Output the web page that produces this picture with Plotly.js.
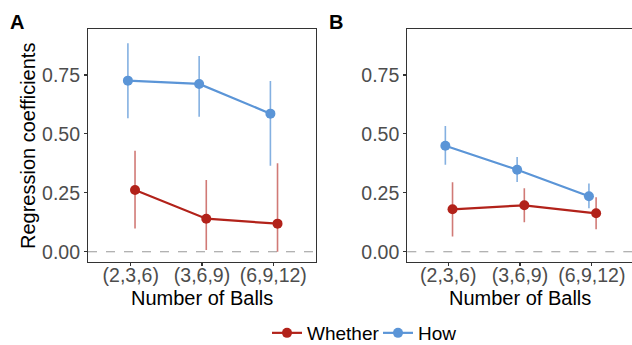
<!DOCTYPE html>
<html>
<head>
<meta charset="utf-8">
<script src="https://cdn.plot.ly/plotly-3.0.1.min.js"></script>
<style>html,body{margin:0;padding:0;background:#fff;}#chart{width:632px;height:345px;}</style>
</head>
<body>
<div id="chart"></div>
<script>
// ---- data ----
const categories = ["(2,3,6)", "(3,6,9)", "(6,9,12)"];
const seriesNames = ["Whether", "How"];

// Panel A
const whetherA = [0.262, 0.140, 0.119];
const whetherA_hi = [0.429, 0.304, 0.375];
const whetherA_lo = [0.098, 0.007, 0.000];
const howA = [0.726, 0.712, 0.586];
const howA_hi = [0.885, 0.831, 0.725];
const howA_lo = [0.566, 0.573, 0.365];

// Panel B
const whetherB = [0.180, 0.197, 0.163];
const whetherB_hi = [0.295, 0.269, 0.231];
const whetherB_lo = [0.064, 0.125, 0.095];
const howB = [0.450, 0.348, 0.235];
const howB_hi = [0.534, 0.402, 0.289];
const howB_lo = [0.369, 0.296, 0.184];

const yTickVals = [0, 0.25, 0.5, 0.75];
const yTickText = ["0.00", "0.25", "0.50", "0.75"];
const xTitle = "Number of Balls";
const yTitle = "Regression coefficients";

// ---- styles ----
const RED = "#B2221A", BLUE = "#5B95D7";
const RED_EB = "rgba(178,34,26,0.6)", BLUE_EB = "rgba(91,149,215,0.75)";
const dodge = {Whether: 0.06, How: -0.04};
const legendOf = {Whether: "legend", How: "legend2"};

function trace(name, vals, hi, lo, color, ebColor, xa, ya, showlegend) {
  return {
    type: "scatter", mode: "lines+markers", name: name,
    x: categories.map((c, i) => i + dodge[name]),
    y: vals,
    xaxis: xa, yaxis: ya, showlegend: showlegend, legendgroup: name, legend: legendOf[name],
    line: {color: color, width: 2.2},
    marker: {color: color, size: 10},
    error_y: {type: "data", symmetric: false,
      array: hi.map((h, i) => h - vals[i]),
      arrayminus: lo.map((l, i) => vals[i] - l),
      color: ebColor, thickness: 1.6, width: 0},
    hoverinfo: "skip"
  };
}

const data = [
  trace("Whether", whetherA, whetherA_hi, whetherA_lo, RED, RED_EB, "x", "y", true),
  trace("How", howA, howA_hi, howA_lo, BLUE, BLUE_EB, "x", "y", true),
  trace("Whether", whetherB, whetherB_hi, whetherB_lo, RED, RED_EB, "x2", "y2", false),
  trace("How", howB, howB_hi, howB_lo, BLUE, BLUE_EB, "x2", "y2", false)
];

const FAM = "Liberation Sans, Arial, sans-serif";
const tickFont = {family: FAM, size: 19.5, color: "#4D4D4D"};
const titleFont = {family: FAM, size: 20, color: "#000"};
const yDom = [0.2397, 0.9151];

function xAxis(domain, range, mirror) {
  return {
    domain: domain, range: range, tickmode: "array", tickvals: [0, 1, 2], ticktext: categories,
    showgrid: false, zeroline: false, showline: true, mirror: mirror, linecolor: "#333", linewidth: 1.1,
    ticks: "outside", ticklen: 3, tickcolor: "#333", tickwidth: 1.1, tickfont: tickFont,
    ticklabelstandoff: -8, automargin: false, fixedrange: true
  };
}
function yAxis(anchor, mirror, withTitle) {
  const a = {
    domain: yDom, range: [-0.045, 0.944], anchor: anchor, tickmode: "array",
    tickvals: yTickVals, ticktext: yTickText,
    showgrid: false, zeroline: false, showline: true, mirror: mirror, linecolor: "#333", linewidth: 1.1,
    ticks: "outside", ticklen: 3, tickcolor: "#333", tickwidth: 1.1, tickfont: tickFont,
    automargin: false, fixedrange: true
  };
  if (withTitle) a.title = {text: yTitle, font: titleFont, standoff: 1};
  return a;
}

const legendBase = {orientation: "h", yanchor: "middle", y: 12/345, xanchor: "left",
  font: {family: FAM, size: 19, color: "#000"}, bgcolor: "rgba(0,0,0,0)", itemwidth: 30};

const layout = {
  width: 632, height: 345,
  margin: {l: 0, r: 0, t: 0, b: 0, autoexpand: false},
  paper_bgcolor: "#fff", plot_bgcolor: "#fff",
  font: {family: FAM},
  xaxis: xAxis([88/632, 316/632], [-0.6, 2.6], true),
  yaxis: yAxis("x", true, true),
  xaxis2: Object.assign(xAxis([407.3/632, 1], [-0.57, 2.56], true), {anchor: "y2"}),
  yaxis2: yAxis("x2", false, false),
  showlegend: true,
  legend: Object.assign({}, legendBase, {x: 267/632}),
  legend2: Object.assign({}, legendBase, {x: 378/632}),
  shapes: [
    {type: "line", xref: "x domain", yref: "y", x0: 0, x1: 1, y0: 0, y1: 0,
     line: {color: "#999", width: 1.1, dash: "dash"}, layer: "below"},
    {type: "line", xref: "x2 domain", yref: "y2", x0: 0, x1: 1, y0: 0, y1: 0,
     line: {color: "#999", width: 1.1, dash: "dash"}, layer: "below"}
  ],
  annotations: [
    {text: "<b>A</b>", xref: "paper", yref: "paper", x: 8/632, y: 1 - 9/345, xanchor: "left", yanchor: "top",
     showarrow: false, font: {family: FAM, size: 20, color: "#000"}},
    {text: "<b>B</b>", xref: "paper", yref: "paper", x: 327/632, y: 1 - 9/345, xanchor: "left", yanchor: "top",
     showarrow: false, font: {family: FAM, size: 20, color: "#000"}},
    {text: xTitle, xref: "x domain", yref: "paper", x: 0.5, y: 1 - 298/345, xanchor: "center", yanchor: "middle",
     showarrow: false, font: titleFont},
    {text: xTitle, xref: "x2 domain", yref: "paper", x: 0.5, y: 1 - 298/345, xanchor: "center", yanchor: "middle",
     showarrow: false, font: titleFont}
  ]
};

Plotly.newPlot("chart", data, layout, {displayModeBar: false, staticPlot: true});
</script>
</body>
</html>
